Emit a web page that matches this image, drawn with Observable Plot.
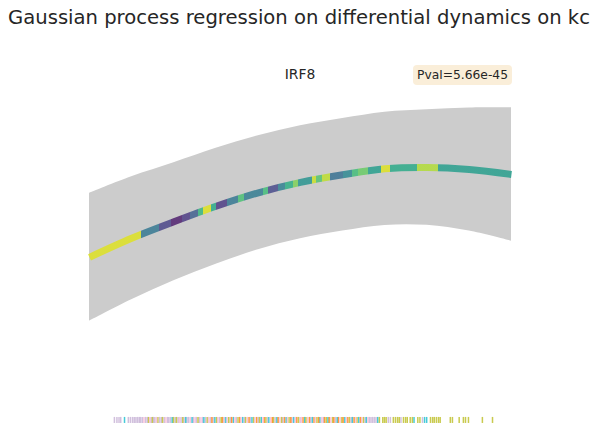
<!DOCTYPE html>
<html>
<head>
<meta charset="utf-8">
<script src="https://cdn.jsdelivr.net/npm/d3@7"></script>
<script src="https://cdn.jsdelivr.net/npm/@observablehq/plot@0.6"></script>
<style>
  body { margin: 0; background: #fff; }
  #fig { position: relative; width: 598px; height: 446px; font-family: "DejaVu Sans", sans-serif; color: #262626; background: #fff; }
  #title { height: 38px; box-sizing: border-box; padding-top: 8px; font-size: 19.6px; line-height: 19.6px; text-align: center; white-space: nowrap; }
  #gene { position: absolute; left: 89px; width: 422px; top: 68px; font-size: 13.9px; line-height: 13.9px; text-align: center; }
  #pval { position: absolute; left: 413px; top: 65px; height: 20px; box-sizing: border-box; padding: 0 4px; font-size: 12.3px; line-height: 20px; background: #faeed9; border-radius: 4px; white-space: nowrap; }
  #chart svg { display: block; }
</style>
</head>
<body>
<div id="fig">
  <div id="title">Gaussian process regression on differential dynamics on kc</div>
  <div id="chart"></div>
  <div id="gene">IRF8</div>
  <div id="pval">Pval=5.66e-45</div>
</div>
<script>
// GP posterior on a pseudotime grid (0–100): mean and half-width of the confidence band
const gridTime = [0, 10, 20, 30, 40, 50, 60, 70, 80, 90, 100];
const gpMean = [0.000, 0.284, 0.530, 0.761, 0.963, 1.119, 1.231, 1.321, 1.340, 1.310, 1.236];
const ciHalfWidth = [0.955, 0.918, 0.881, 0.866, 0.851, 0.843, 0.840, 0.845, 0.863, 0.919, 0.996];

// Mean curve colouring: segment start times and their value on the viridis scale
const segStart = [0, 12.1, 16.4, 19.2, 22.0, 23.9, 25.6, 27.0, 28.7, 29.9, 32.7, 35.1, 36.5, 41.0, 42.4,
  44.6, 46.4, 48.3, 49.5, 52.8, 53.6, 55.2, 57.1, 60.0, 62.3, 63.7, 65.9, 69.0, 71.3, 77.7, 82.7];
const segValue = [0.95, 0.38, 0.18, 0.06, 0.15, 0.28, 0.65, 0.95, 0.6, 0.15, 0.38, 0.7, 0.4, 0.68, 0.2,
  0.42, 0.62, 0.8, 0.5, 0.92, 0.72, 0.9, 0.35, 0.45, 0.68, 0.76, 0.55, 0.95, 0.6, 0.88, 0.55];

// Cell pseudotimes per cluster (rug)
const rugClusterA = [5.9, 6.5, 7.0, 7.4, 9.2, 9.7, 10.2, 10.6, 11.0, 11.4, 11.8, 12.1, 12.5, 13.3, 13.7, 14.6,
  15.2, 15.5, 16.6, 17.0, 17.7, 18.5, 18.8, 19.2, 20.3, 21.0, 21.7, 22.4, 23.1, 23.5, 24.6, 25.3, 26.0,
  26.8, 27.5, 28.6, 29.3, 30.8, 31.9, 33.4, 34.8, 36.7, 38.1, 40.0, 42.2, 44.0, 45.8, 48.0, 49.9, 52.4,
  55.4, 58.3, 62.0, 65.3, 66.3, 66.7, 67.1, 67.5, 67.9, 70.8, 71.3, 73.8, 78.9];
const rugClusterB = [8.3, 19.6, 22.8, 24.3, 27.1, 29.7, 32.3, 34.1, 36.3, 38.5, 40.7, 42.5, 44.4, 46.6, 48.4,
  51.0, 52.8, 54.6, 56.5, 58.7, 60.5, 62.3, 63.8, 65.6, 68.3, 76.9, 79.4, 79.9];
const rugClusterC = [14.0, 14.9, 16.2, 17.3, 19.9, 20.6, 22.1, 25.7, 27.9, 30.1, 31.2, 33.0, 35.2, 37.0, 38.9,
  40.3, 41.8, 43.6, 45.5, 47.3, 49.5, 51.3, 53.9, 56.1, 57.6, 59.8, 61.6, 63.4, 64.9, 68.7, 69.5, 69.9,
  70.3, 72.0, 72.5, 73.0, 73.4, 74.4, 74.9, 75.3, 76.0, 76.5, 77.8, 78.3, 80.8, 81.3, 81.7, 82.2, 82.7,
  83.1, 85.5, 86.0, 87.6, 88.6, 89.1, 89.8, 93.1, 95.5];
const rugClusterD = [29.0, 31.5, 33.7, 35.6, 37.8, 39.6, 41.4, 43.3, 44.7, 46.2, 47.7, 49.1, 50.6, 52.1, 53.2,
  54.3, 55.7, 56.8, 57.9, 59.0, 60.1, 61.2, 62.7, 64.2];
const rugClusterE = [12.9, 14.3, 15.9, 18.1, 21.3, 23.9, 25.0, 26.4, 28.2, 30.4, 32.6, 34.5, 35.9, 37.4, 39.2,
  41.1, 42.9, 45.1, 46.9, 48.8, 50.2, 51.7, 53.5, 55.0, 57.2, 59.4, 60.9, 63.1, 64.5, 66.0];
const clusterNames = ["A", "B", "C", "D", "E"];
const clusterColors = ["#c5b0d5", "#17becf", "#bcbd22", "#ff7f0e", "#f7b6d2"];

// Rug band, in y units, just above the bottom of the frame
const rugBand = [-2.48, -2.39];

const gp = gridTime.map((t, i) => ({t, mean: gpMean[i], lo: gpMean[i] - ciHalfWidth[i], hi: gpMean[i] + ciHalfWidth[i]}));
const rug = [rugClusterA, rugClusterB, rugClusterC, rugClusterD, rugClusterE]
  .flatMap((times, k) => times.map(t => ({t, cluster: clusterNames[k]})));

const chart = Plot.plot({
  width: 598,
  height: 408,
  marginLeft: 89,
  marginRight: 87,
  marginTop: 58,
  marginBottom: 15,
  style: {background: "#fff"},
  x: {domain: [0, 100], axis: null},
  y: {domain: [-2.6, 2.4], axis: null},
  color: {domain: clusterNames, range: clusterColors},
  marks: [
    Plot.areaY(gp, {x: "t", y1: "lo", y2: "hi", fill: "#cccccc", curve: "catmull-rom"}),
    Plot.line(gp, {x: "t", y: "mean", stroke: "url(#gp-seg)", strokeWidth: 7, strokeOpacity: 0.8, strokeLinecap: "butt", curve: "catmull-rom"}),
    Plot.ruleX(rug, {x: "t", y1: rugBand[0], y2: rugBand[1], stroke: "cluster", strokeWidth: 1.5, strokeOpacity: 0.8})
  ]
});

// Piecewise-constant viridis colouring of the mean curve along x
const xs = chart.scale("x");
const ns = "http://www.w3.org/2000/svg";
const x0 = xs.apply(0), x1 = xs.apply(100);
const defs = document.createElementNS(ns, "defs");
const grad = document.createElementNS(ns, "linearGradient");
grad.setAttribute("id", "gp-seg");
grad.setAttribute("gradientUnits", "userSpaceOnUse");
grad.setAttribute("x1", x0); grad.setAttribute("x2", x1);
grad.setAttribute("y1", 0); grad.setAttribute("y2", 0);
segStart.forEach((s, i) => {
  const e = i + 1 < segStart.length ? segStart[i + 1] : 100;
  const c = d3.interpolateViridis(segValue[i]);
  for (const t of [s, e]) {
    const stop = document.createElementNS(ns, "stop");
    stop.setAttribute("offset", (xs.apply(t) - x0) / (x1 - x0));
    stop.setAttribute("stop-color", c);
    grad.appendChild(stop);
  }
});
defs.appendChild(grad);
chart.prepend(defs);

document.getElementById("chart").appendChild(chart);
</script>
</body>
</html>
